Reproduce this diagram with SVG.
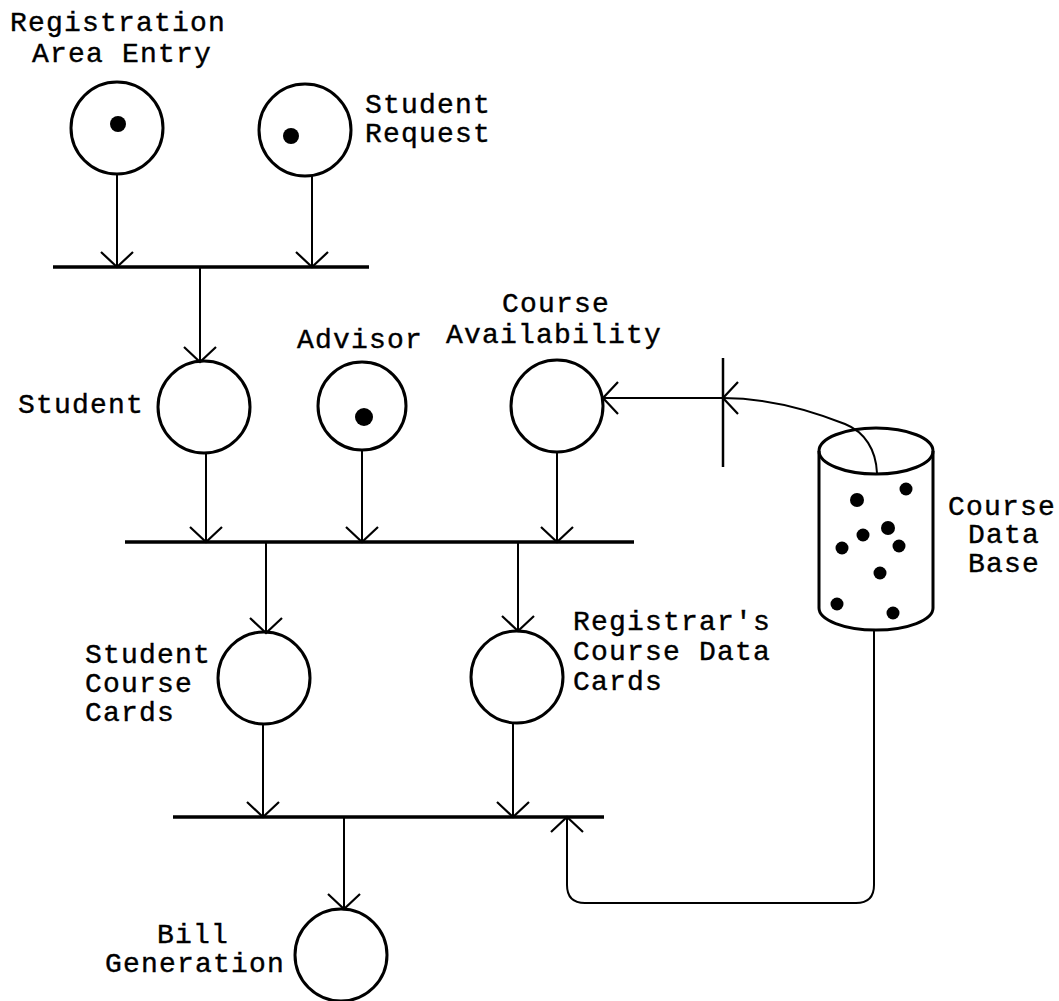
<svg xmlns="http://www.w3.org/2000/svg" width="1059" height="1001" viewBox="0 0 1059 1001">
<style>
text{font-family:"Liberation Mono","DejaVu Sans Mono",monospace;font-size:28px;letter-spacing:1.2px;fill:#000;stroke:#000;stroke-width:0.4;}
.place{fill:none;stroke:#000;stroke-width:3;}
.token{fill:#000;stroke:none;}
.bar{stroke:#000;stroke-width:3.5;fill:none;}
.arc{stroke:#000;stroke-width:2;fill:none;marker-end:url(#arr);}
</style>
<defs>
<marker id="arr" markerUnits="userSpaceOnUse" markerWidth="40" markerHeight="40" viewBox="-20 -20 40 40" refX="0" refY="0" orient="auto">
<path d="M-15,-16 L0,0 L-15,16" fill="none" stroke="#000" stroke-width="2.2"/>
</marker>
</defs>
<rect width="1059" height="1001" fill="#fff"/>
<g id="connectors">
<line class="arc" x1="117" y1="173" x2="117" y2="267"/>
<line class="arc" x1="312" y1="175" x2="312" y2="267"/>
<line class="arc" x1="200" y1="267" x2="200" y2="362"/>
<line class="arc" x1="206" y1="452" x2="206" y2="542"/>
<line class="arc" x1="362" y1="450" x2="362" y2="542"/>
<line class="arc" x1="557" y1="452" x2="557" y2="542"/>
<line class="arc" x1="266" y1="542" x2="266" y2="633"/>
<line class="arc" x1="518" y1="542" x2="518" y2="631"/>
<line class="arc" x1="263" y1="723" x2="263" y2="817"/>
<line class="arc" x1="513" y1="723" x2="513" y2="817"/>
<line class="arc" x1="344" y1="817" x2="344" y2="909"/>
<line class="arc" x1="723" y1="398" x2="603" y2="398"/>
<path class="arc" d="M877,473 C876,450 865,432 845,424 C810,410 770,398 723,398"/>
<path class="arc" d="M874,630 L874,885 Q874,903 856,903 L585,903 Q567,903 567,885 L567,817"/>
</g>
<g id="t1"><line class="bar" x1="53" y1="267" x2="369" y2="267"/></g>
<g id="t2"><line class="bar" x1="125" y1="542" x2="634" y2="542"/></g>
<g id="t3"><line class="bar" x1="173" y1="817" x2="604" y2="817"/></g>
<g id="t4"><line class="bar" x1="723" y1="358" x2="723" y2="467" style="stroke-width:2.5"/></g>
<g id="p-registration-area-entry">
<circle class="place" cx="117" cy="128" r="46"/>
<circle class="token" cx="118" cy="124" r="8"/>
<text x="10" y="31">Registration</text>
<text x="32" y="62">Area Entry</text>
</g>
<g id="p-student-request">
<circle class="place" cx="305" cy="130" r="46"/>
<circle class="token" cx="291" cy="136" r="8"/>
<text x="365" y="113">Student</text>
<text x="365" y="142">Request</text>
</g>
<g id="p-student">
<circle class="place" cx="204" cy="407" r="46"/>
<text x="18" y="413">Student</text>
</g>
<g id="p-advisor">
<circle class="place" cx="362" cy="406" r="44"/>
<circle class="token" cx="364" cy="417" r="9"/>
<text x="297" y="348">Advisor</text>
</g>
<g id="p-course-availability">
<circle class="place" cx="557" cy="406" r="46"/>
<text x="502" y="312">Course</text>
<text x="446" y="343">Availability</text>
</g>
<g id="p-student-course-cards">
<circle class="place" cx="264" cy="678" r="46"/>
<text x="85" y="663">Student</text>
<text x="85" y="692">Course</text>
<text x="85" y="721">Cards</text>
</g>
<g id="p-registrars-course-data-cards">
<circle class="place" cx="517" cy="677" r="46"/>
<text x="573" y="630">Registrar's</text>
<text x="573" y="660">Course Data</text>
<text x="573" y="690">Cards</text>
</g>
<g id="p-bill-generation">
<circle class="place" cx="341" cy="955" r="46"/>
<text x="157" y="943">Bill</text>
<text x="105" y="972">Generation</text>
</g>
<g id="course-data-base">
<path class="place" d="M819,451 L819,608 A57,22 0 0 0 933,608 L933,451"/>
<ellipse class="place" cx="876" cy="451" rx="57" ry="23"/>
<circle class="token" cx="857" cy="500" r="7"/>
<circle class="token" cx="906" cy="489" r="6.5"/>
<circle class="token" cx="888" cy="528" r="7"/>
<circle class="token" cx="863" cy="535" r="6.5"/>
<circle class="token" cx="842" cy="548" r="6.5"/>
<circle class="token" cx="899" cy="546" r="6.5"/>
<circle class="token" cx="880" cy="573" r="6.5"/>
<circle class="token" cx="837" cy="604" r="6.5"/>
<circle class="token" cx="893" cy="613" r="6.5"/>
<text x="948" y="515">Course</text>
<text x="968" y="543">Data</text>
<text x="968" y="572">Base</text>
</g>
</svg>
